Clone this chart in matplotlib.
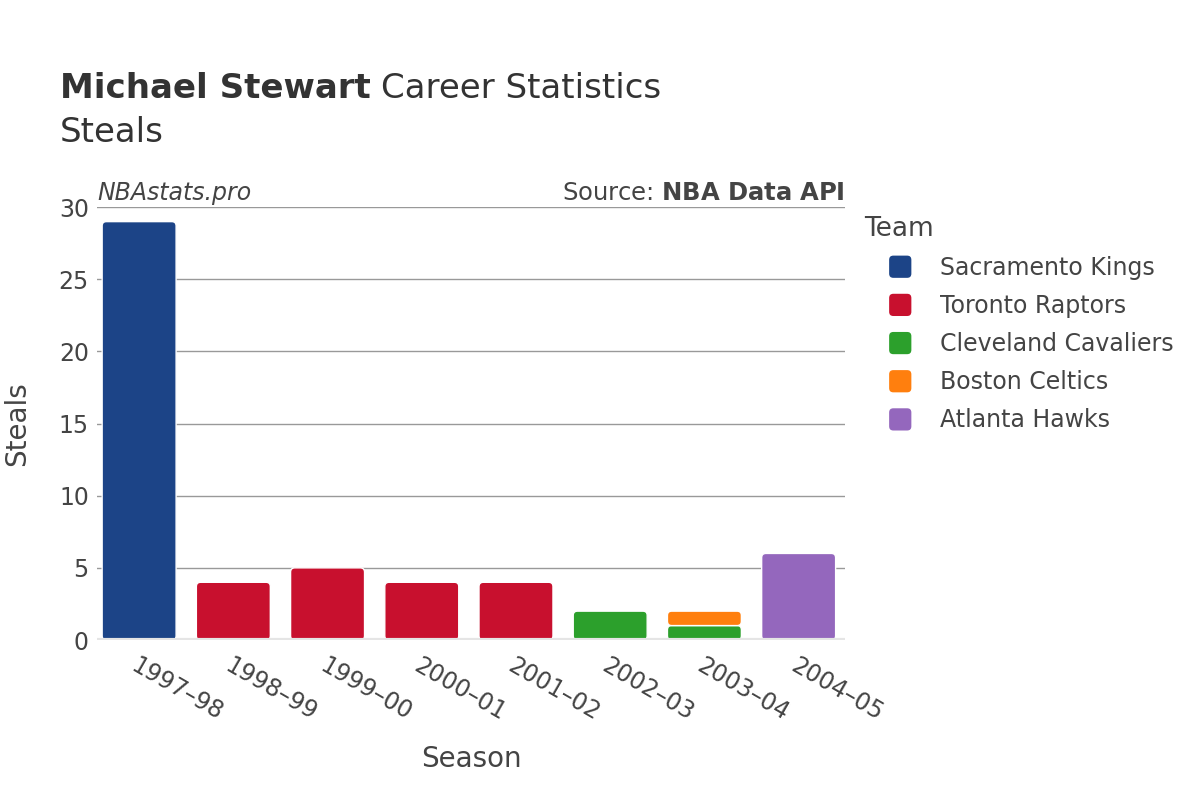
import matplotlib.pyplot as plt
import numpy as np
from matplotlib.patches import FancyBboxPatch, Patch
from matplotlib.legend_handler import HandlerPatch

seasons = ["1997–98", "1998–99", "1999–00", "2000–01", "2001–02", "2002–03", "2003–04", "2004–05"]
teams = ["Sacramento Kings", "Toronto Raptors", "Cleveland Cavaliers", "Boston Celtics", "Atlanta Hawks"]
colors = ["#1c4487", "#c8102e", "#2ca02c", "#ff7f0e", "#9467bd"]

# steals per season per team (stacked in this order)
sacramento = [29, 0, 0, 0, 0, 0, 0, 0]
toronto = [0, 4, 5, 4, 4, 0, 0, 0]
cleveland = [0, 0, 0, 0, 0, 2, 1, 0]
boston = [0, 0, 0, 0, 0, 0, 1, 0]
atlanta = [0, 0, 0, 0, 0, 0, 0, 6]
series = [sacramento, toronto, cleveland, boston, atlanta]

plt.rcParams['font.family'] = ['DejaVu Sans']
fig = plt.figure(figsize=(12, 8), dpi=100)
ax = fig.add_axes([0.081, 0.2, 0.623, 0.541])

ax.set_xlim(-0.445, len(seasons) - 0.51)
ax.set_ylim(0, 30)

# pixel ratio between x and y data units, for round corners
px_x = 0.623 * 1200 / (len(seasons) - 0.51 + 0.445)
px_y = 0.541 * 800 / 30
aspect = px_x / px_y

x = np.arange(len(seasons))
bottom = np.zeros(len(seasons))
for vals, col in zip(series, colors):
    vals = np.array(vals, dtype=float)
    bars = ax.bar(x, vals, 0.785, bottom=bottom, color=col)
    for b in bars:
        x0, y0 = b.get_x(), b.get_y()
        w, h = b.get_width(), b.get_height()
        b.remove()
        if h <= 0:
            continue
        ax.add_patch(FancyBboxPatch((x0, y0), w, h,
                                    boxstyle="round,pad=0,rounding_size=0.045",
                                    mutation_aspect=aspect,
                                    facecolor=col, edgecolor="white", linewidth=1.0,
                                    zorder=3))
    bottom += vals

ax.set_yticks([0, 5, 10, 15, 20, 25, 30])
ax.yaxis.grid(True, color="#999999", linewidth=1)
ax.set_axisbelow(True)
for s in ax.spines.values():
    s.set_visible(False)
ax.axhline(0, color="#e5e5e5", linewidth=3, zorder=4)
ax.tick_params(axis='both', length=0, labelsize=17, labelcolor="#444444", pad=6)
ax.set_xticks(x)
ax.set_xticklabels(seasons, rotation=-30, ha='left', va='top', rotation_mode='anchor')
ax.tick_params(axis='x', pad=10)

ax.set_xlabel("Season", fontsize=20, color="#444444", labelpad=14)
ax.set_ylabel("Steals", fontsize=20, color="#444444", labelpad=20)

t1 = fig.text(0.05, 0.889, "Michael Stewart", fontsize=24.5, fontweight='bold', color="#333333", va='center')
fig.canvas.draw()
bb = t1.get_window_extent()
fig.text((bb.x1 + 10) / 1200, 0.889, "Career Statistics", fontsize=24.5, color="#333333", va='center')
fig.text(0.05, 0.835, "Steals", fontsize=24.5, color="#333333", va='center')

ax.text(0.0, 1.005, "NBAstats.pro", transform=ax.transAxes, fontsize=17, style='italic',
        color="#444444", ha='left', va='bottom')
ax.text(1.0, 1.005, "Source: $\\bf{NBA\\ Data\\ API}$", transform=ax.transAxes, fontsize=17.5,
        color="#444444", ha='right', va='bottom')


class RoundHandler(HandlerPatch):
    def create_artists(self, legend, orig_handle, xdescent, ydescent, width, height, fontsize, trans):
        s = 16
        cx = -xdescent + width / 2
        cy = -ydescent + height / 2
        p = FancyBboxPatch((cx - s / 2, cy - s / 2), s, s,
                           boxstyle="round,pad=0,rounding_size=3",
                           facecolor=orig_handle.get_facecolor(), edgecolor='none',
                           transform=trans)
        return [p]


handles = [Patch(facecolor=c) for c in colors]
leg = fig.legend(handles, teams, loc='upper left', bbox_to_anchor=(0.702, 0.757),
                 frameon=False, fontsize=17, title="Team", title_fontsize=19,
                 labelspacing=0.6, handletextpad=0.15, handlelength=3.1, handleheight=1.0,
                 alignment='left', handler_map={Patch: RoundHandler()})
for t in leg.get_texts():
    t.set_color("#444444")
leg.get_title().set_color("#444444")

fig.savefig("out.png", dpi=100)
